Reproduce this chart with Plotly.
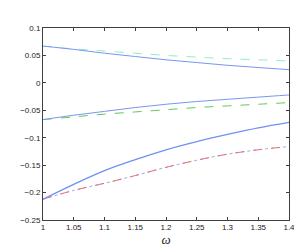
import plotly.graph_objects as go

omega = [1.0, 1.05, 1.1, 1.15, 1.2, 1.25, 1.3, 1.35, 1.4]
top_solid = [0.067, 0.061, 0.054, 0.048, 0.042, 0.037, 0.032, 0.028, 0.024]
top_dash = [0.067, 0.062, 0.058, 0.054, 0.050, 0.047, 0.044, 0.042, 0.040]
mid_solid = [-0.067, -0.059, -0.052, -0.045, -0.039, -0.034, -0.030, -0.026, -0.022]
mid_dash = [-0.067, -0.062, -0.057, -0.053, -0.049, -0.045, -0.042, -0.039, -0.036]
bot_solid = [-0.212, -0.185, -0.160, -0.140, -0.122, -0.107, -0.094, -0.082, -0.072]
bot_dash = [-0.212, -0.196, -0.183, -0.169, -0.154, -0.141, -0.130, -0.122, -0.116]

xticks = [1, 1.05, 1.1, 1.15, 1.2, 1.25, 1.3, 1.35, 1.4]
xticklabels = ["1", "1.05", "1.1", "1.15", "1.2", "1.25", "1.3", "1.35", "1.4"]
yticks = [0.1, 0.05, 0, -0.05, -0.1, -0.15, -0.2, -0.25]
yticklabels = ["0.1", "0.05", "0", "\u22120.05", "\u22120.1", "\u22120.15", "\u22120.2", "\u22120.25"]
xlabel = "\u03c9"

fig = go.Figure()
def add(y, color, dash, width=1):
    fig.add_trace(go.Scatter(x=omega, y=y, mode="lines", line=dict(color=color, dash=dash, width=width, shape="spline"), showlegend=False))

add(top_dash, "#90ecd0", "dash")
add(top_solid, "#7896f2", "solid")
add(mid_dash, "#60c860", "dash")
add(mid_solid, "#7896f2", "solid")
add(bot_dash, "#98a8f4", "dot")
add(bot_dash, "#e87080", "dash")
add(bot_solid, "#7090f2", "solid", 1.3)

axis_common = dict(showline=True, mirror="ticks", linecolor="#404040", linewidth=1,
                   ticks="inside", ticklen=3, tickcolor="#404040", showgrid=False, zeroline=False,
                   tickfont=dict(family="Liberation Sans, Arial", size=8, color="#222"))
fig.update_xaxes(range=[1, 1.4], tickvals=xticks, ticktext=xticklabels, ticklabelstandoff=-1,
                 title=dict(text="<i>" + xlabel + "</i>", standoff=0,
                            font=dict(family="Liberation Serif, serif", size=13, color="#222")),
                 **axis_common)
fig.update_yaxes(range=[-0.25, 0.1], tickvals=yticks, ticktext=yticklabels, ticklabelstandoff=0, **axis_common)
fig.update_layout(width=302, height=245, margin=dict(l=33, r=21, t=20, b=31),
                  plot_bgcolor="white", paper_bgcolor="white")
fig.write_html("out.html")
